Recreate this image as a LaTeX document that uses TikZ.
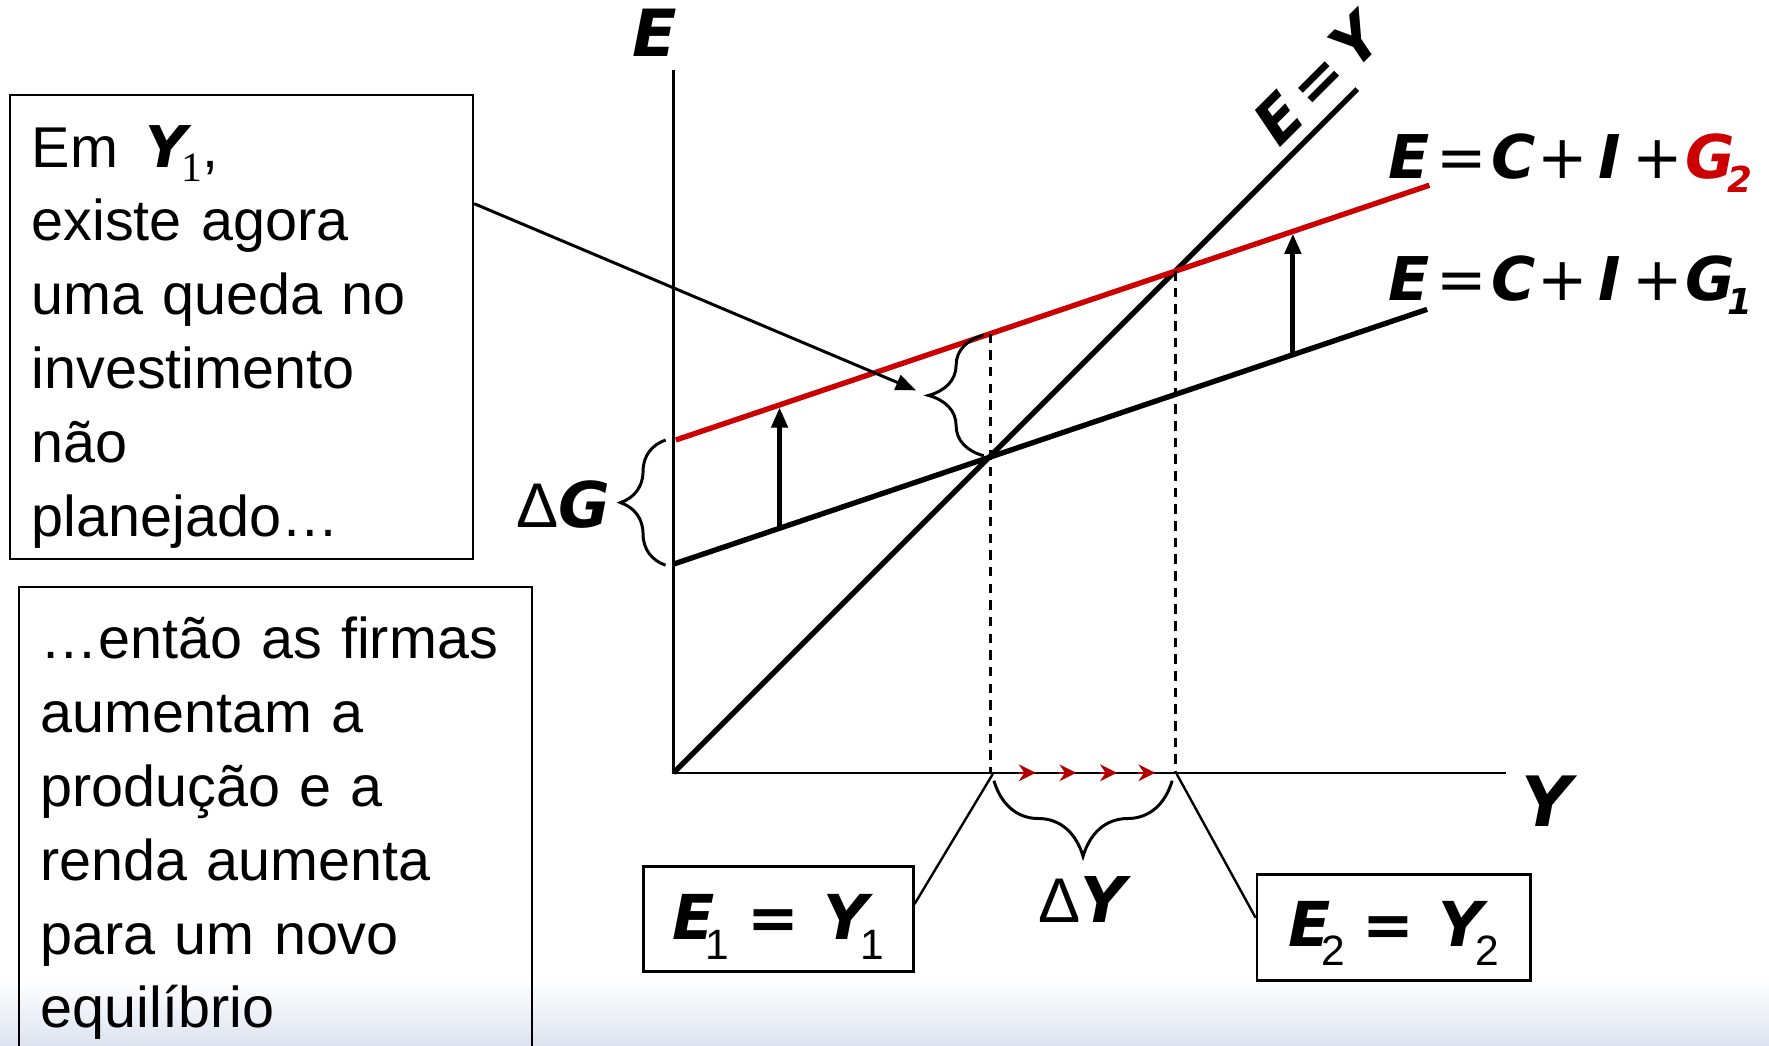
\documentclass[tikz,border=0pt]{standalone}
\usepackage{fontspec}
\setmainfont{Liberation Sans}
\newfontfamily\lbl{DejaVu Sans}
\newfontfamily\srf{Liberation Serif}
\usetikzlibrary{arrows.meta,decorations.pathreplacing,calc}
\definecolor{gred}{RGB}{204,0,0}
\definecolor{ared}{RGB}{176,0,0}
\definecolor{bgblue}{RGB}{220,227,239}
\newcommand\bi[1]{{\lbl\bfseries\itshape #1}}
\newcommand\sbx[3]{\raisebox{-#1}{\fontsize{#2}{#2}\selectfont #3}}
\newcommand\slotbox[2]{\makebox[#1][c]{#2}}
\newcommand\eqtext[2]{\slotbox{13.2pt}{E}\slotbox{13.1pt}{\mdseries\upshape=}\slotbox{13.0pt}{C}\slotbox{12.0pt}{\mdseries\upshape+}\slotbox{11.6pt}{I}\slotbox{12.9pt}{\mdseries\upshape+}\textcolor{#1}{\slotbox{13.5pt}{G}\kern-2.6pt\sbx{3.7pt}{9pt}{#2}}}
\begin{document}
\begin{tikzpicture}[x=0.01cm,y=-0.01cm,
  axisline/.style={line width=0.6pt},
  mainline/.style={line width=1.35pt},
  guideline/.style={line width=0.6pt, dash pattern=on 2.4pt off 1.8pt},
  txtbox/.style={draw, line width=0.6pt, anchor=north west, inner xsep=0.19cm, inner ysep=0pt,
     align=left, font=\fontsize{14.5pt}{18.6pt}\selectfont},
  eqbox/.style={draw, line width=0.7pt, inner sep=0pt, anchor=north west,
     font=\fontsize{15.6pt}{18pt}\selectfont},
  lab/.style={inner sep=0pt, anchor=base west, font=\lbl\bfseries\itshape\fontsize{15.2pt}{18pt}\selectfont},
  shiftarrow/.style={line width=1.3pt, -{Triangle[length=0.18cm,width=0.14cm]}},
  calloutline/.style={line width=0.6pt},
  pointer/.style={line width=0.75pt, -{Triangle[length=0.18cm,width=0.14cm]}},
  brc/.style={line width=0.75pt, decorate},
  mini/.style={ared, line width=0.4pt, -{Stealth[length=0.15cm,width=0.15cm,inset=0.05cm]}}
]
\useasboundingbox (0,0) rectangle (1568,927);
\clip (0,0) rectangle (1568,927);
\shade[top color=white, bottom color=bgblue] (0,868) rectangle (1568,927);

% axes
\coordinate (O) at (597,685);
\coordinate (Etop) at (597,62);
\coordinate (Yend) at (1335,685);
\draw[axisline] (Etop) -- (O) -- (Yend);
\node[lab, font=\lbl\bfseries\itshape\fontsize{16.4pt}{18pt}\selectfont] (Elab) at (560,50.5) {E};
\node[lab, font=\lbl\bfseries\itshape\fontsize{17.5pt}{18pt}\selectfont] (Ylab) at (1348,732.5) {Y};

% lines
\coordinate (EYtop) at (1203,79);
\coordinate (g1a) at (597,500);
\coordinate (g1b) at (1265,274.2);
\coordinate (g2a) at (599,390);
\coordinate (g2b) at (1267,164.2);
\draw[mainline] (O) -- (EYtop);
\draw[mainline] (g1a) -- (g1b);
\draw[mainline, gred] (g2a) -- (g2b);

% dashed guides
\coordinate (A1) at (878,295.7);
\coordinate (Y1) at (878,685);
\coordinate (A2) at (1042,240.3);
\coordinate (Y2) at (1042,685);
\draw[guideline] (A1) -- (Y1);
\draw[guideline] (A2) -- (Y2);

% shift arrows
\coordinate (s1a) at (691,468.2);
\coordinate (s1b) at (691,361);
\coordinate (s2a) at (1146,314.4);
\coordinate (s2b) at (1146,207);
\draw[shiftarrow] (s1a) -- (s1b);
\draw[shiftarrow] (s2a) -- (s2b);

% labels
\node[lab, rotate=45, anchor=center] (EYlab) at (1168,70) {E\kern2pt=\kern2pt Y};
\node[lab] (eqG2) at (1225.25,158) {\eqtext{gred}{2}};
\node[lab] (eqG1) at (1225.25,266) {\eqtext{black}{1}};
\node[inner sep=0pt, anchor=base west, font=\fontsize{15.9pt}{18pt}\selectfont] (dG) at (457,468) {Δ\bi{G}};
\node[inner sep=0pt, anchor=base west, font=\fontsize{15.9pt}{18pt}\selectfont] (dY) at (920,818) {Δ\bi{Y}};

% braces
\coordinate (bg1) at (590,501);
\coordinate (bg2) at (590,390);
\draw[brc, decoration={brace, amplitude=0.4cm}] (bg1) -- (bg2);
\coordinate (bi1) at (872,404);
\coordinate (bi2) at (872,297);
\draw[brc, decoration={brace, amplitude=0.49cm}] (bi1) -- (bi2);
\coordinate (by1) at (1039,692);
\coordinate (by2) at (881,692);
\draw[brc, decoration={brace, amplitude=0.67cm}] (by1) -- (by2);

% red arrowheads on the Y axis
\foreach \t [count=\i] in {918,954,990,1024} {
  \coordinate (ra\i) at (\t,685);
  \coordinate (rb\i) at (\t-15,685);
  \draw[mini] (rb\i) -- (ra\i);
}

% text boxes
\node[txtbox, text width=3.72cm, text height=0.64cm, text depth=3.47cm] (box1) at (8,83)
 {Em\hspace{7pt}\bi{Y}\kern-1.5pt\sbx{3.7pt}{10.5pt}{\srf 1},\\
  existe agora\\
  uma queda no\\
  investimento\\
  não\\
  planejado…};
\node[txtbox, text width=4.16cm, text height=0.64cm, text depth=4.3cm] (box2) at (16,519)
 {…então as firmas\\
  aumentam a\\
  produção e a\\
  renda aumenta\\
  para um novo\\
  equilíbrio};

\coordinate (tip1) at (812,346);
\draw[pointer] ($(box1.north east)!0.236!(box1.south east)$) -- (tip1);

% equilibrium boxes
\node[eqbox, minimum width=2.39cm, minimum height=0.93cm, text height=0.364cm, text depth=0pt] (e1box) at (569,767)
 {\bi{E}\kern-2.3pt\sbx{4.9pt}{10.7pt}{1}\kern4.5pt{\lbl\bfseries =}\kern6.1pt\bi{Y}\kern-2pt\sbx{4.9pt}{10.7pt}{1}};
\node[eqbox, minimum width=2.42cm, minimum height=0.94cm, text height=0.332cm, text depth=0pt] (e2box) at (1113,774)
 {\bi{E}\kern-2.3pt\sbx{4.9pt}{10.7pt}{2}\kern4.5pt{\lbl\bfseries =}\kern6.1pt\bi{Y}\kern-2pt\sbx{4.9pt}{10.7pt}{2}};
\coordinate (Y1b) at (880,686);
\coordinate (Y2b) at (1043,686);
\draw[calloutline] ($(e1box.north east)!0.36!(e1box.south east)$) -- (Y1b);
\draw[calloutline] (Y2b) -- ($(e2box.north west)!0.41!(e2box.south west)$);
\end{tikzpicture}
\end{document}
